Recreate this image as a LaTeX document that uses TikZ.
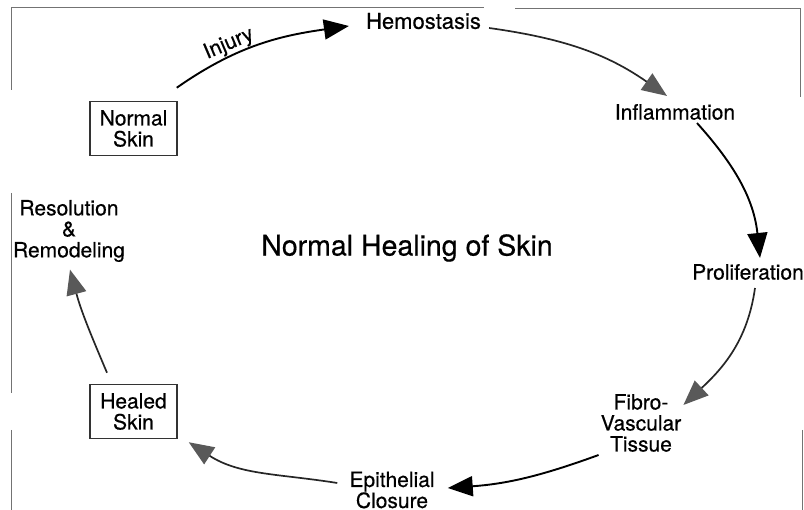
\documentclass[tikz,border=0pt]{standalone}
\usepackage{fontspec}
\setmainfont{TeX Gyre Heros}[FakeBold=0.5]
\usetikzlibrary{arrows.meta}

\begin{document}
\begin{tikzpicture}[
    x=1pt, y=1pt,
    >={Triangle[length=25pt,width=20pt]},
    etapa/.style={inner sep=0pt, align=center, font=\fontsize{21}{21}\selectfont},
    caixa/.style={etapa, draw, line width=1.5pt, black!80, text=black,
        minimum width=87pt, minimum height=54pt},
    fletxa/.style={->, line width=1.9pt},
    grisa/.style={line width=1.7pt, black!85,
        -{Triangle[length=25pt,width=20pt,color=black!65]}}
]

\useasboundingbox (0,0) rectangle (804,510);

% Marc
\draw[black!55, line width=0.8pt] (11,420) -- (11,503) -- (484,503);
\draw[black!55, line width=0.8pt] (515,502) -- (800,502) -- (800,413);
\draw[black!55, line width=0.8pt] (11,317) -- (11,117);
\draw[black!55, line width=0.8pt] (11,80) -- (11,0);
\draw[black!55, line width=0.8pt] (802,80) -- (802,0);

% Etapes
\node[caixa, xshift=2pt] (normal) at (131.5,381.5) {Normal\\Skin};
\node[etapa, font=\fontsize{22}{22}\selectfont] (hemo) at (423.5,489) {Hemostasis};
\node[etapa] (inflam) at (675,398) {Inflammation};
\node[etapa] (prolif) at (748,238) {Proliferation};
\node[etapa] (fibro) at (641,87) {Fibro-\\Vascular\\Tissue};
\node[etapa] (epit) at (392,20) {Epithelial\\Closure};
\node[caixa, xshift=2pt] (curada) at (131.5,98.5) {Healed\\Skin};
\node[etapa] (resol) at (69,279) {Resolution\\\&\\Remodeling};

% Titol
\node[font=\fontsize{28.5}{30}\selectfont] (titol) at (407,262) {Normal Healing of Skin};

% Lesio
\node[etapa, rotate=23] (lesio) at (229,466) {Injury};
\draw[fletxa] ([shift={(-1,13)}]normal.north east)
    to[out=35, in=188] ([shift={(-17,-5)}]hemo.west);

% Hemostasi -> inflamacio
\draw[grisa] ([shift={(8,-7)}]hemo.east)
    to[out=-8, in=145] ([shift={(-8,8)}]inflam.north);

% Inflamacio -> proliferacio
\draw[fletxa] ([shift={(22,-3)}]inflam.south)
    to[out=-48, in=96] ([shift={(12,6)}]prolif.north);

% Proliferacio -> teixit
\draw[grisa] ([shift={(7,-8)}]prolif.south)
    to[out=-98, in=43] ([shift={(2,-11)}]fibro.north east);

% Teixit -> tancament
\draw[fletxa] ([shift={(-2,-3)}]fibro.south west)
    to[out=200, in=4] ([shift={(13,2)}]epit.east);

% Tancament -> pell curada
\draw[grisa] ([shift={(-12,7)}]epit.west)
    to[out=171, in=-33] ([shift={(11,-3)}]curada.south east);

% Pell curada -> remodelacio
\draw[grisa] ([shift={(-26.5,11)}]curada.north)
    to[out=113, in=-75] ([shift={(1,-7.5)}]resol.south);

\end{tikzpicture}
\end{document}
